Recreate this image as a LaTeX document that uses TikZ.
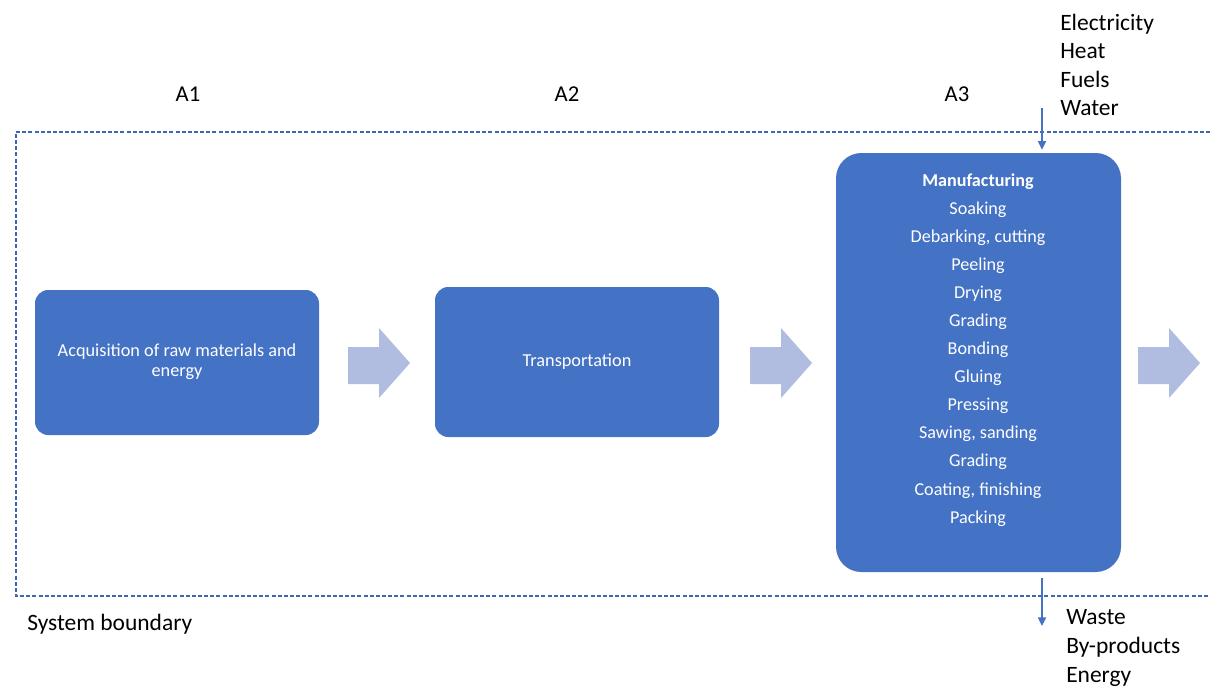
\documentclass[tikz,border=0pt]{standalone}
\usepackage{fontspec}
\setmainfont{Carlito}
\usetikzlibrary{arrows.meta}
\definecolor{boxblue}{HTML}{4472C4}
\definecolor{lightarrow}{HTML}{B0BCE0}
\definecolor{bound}{HTML}{3D67B1}
\begin{document}
\begin{tikzpicture}[x=0.75pt,y=-0.75pt,
  procbox/.style={fill=boxblue, text=white, font=\fontsize{13.7pt}{15pt}\selectfont, align=center, inner sep=0pt},
  mtext/.style={text=white, font=\fontsize{13.6pt}{15pt}\selectfont, inner sep=0pt, anchor=mid},
  outlabel/.style={font=\fontsize{17.6pt}{21pt}\selectfont, inner sep=0pt, anchor=mid west},
  stagelabel/.style={font=\fontsize{17pt}{20pt}\selectfont, inner sep=0pt, anchor=mid},
  blockarrow/.style={fill=lightarrow},
  boundary/.style={draw=bound, line width=1.1pt, dash pattern=on 3pt off 1.6pt},
  conn/.style={draw=boxblue, line width=1.3pt, -{Triangle[length=6.5pt,width=6pt]}}]
\useasboundingbox (0,0) rectangle (1210,687);
% system boundary
\draw[boundary] (1210,132) -- (16,132) -- (16,596) -- (1210,596);
% stage labels
\node[stagelabel] (a1) at (188,98) {A1};
\node[stagelabel] (a2) at (567,98) {A2};
\node[stagelabel] (a3) at (957,98) {A3};
% process boxes
\node[procbox, rounded corners=10pt, minimum width=213pt, minimum height=108.75pt] (acq) at (177,362.5) {\raisebox{-10.5pt}[0pt][0pt]{\parbox[b]{200pt}{\centering\baselineskip=15pt Acquisition of raw materials and\\energy}}};
\node[procbox, rounded corners=10pt, minimum width=213pt, minimum height=112.5pt] (trans) at (577,362) {\raisebox{-3.4pt}[0pt][0pt]{Transportation}};
\node[procbox, rounded corners=19pt, minimum width=213.75pt, minimum height=314.25pt] (mfg) at (978.5,362.5) {};
\foreach \t [count=\i] in {\textbf{Manufacturing}, Soaking, {Debarking, cutting}, Peeling, Drying, Grading, Bonding, Gluing, Pressing, {Sawing, sanding}, Grading, {Coating, finishing}, Packing}
  \node[mtext] (m\i) at (978,{183+(\i-1)*28.08}) {\t};
% block arrows
\foreach \dx in {0,402,790}
  \fill[blockarrow] (348+\dx,347) -- (379+\dx,347) -- (379+\dx,328) -- (410+\dx,363) -- (379+\dx,398) -- (379+\dx,384) -- (348+\dx,384) -- cycle;
% inputs
\node[outlabel] (elec) at (1060,27) {Electricity};
\node[outlabel] (heat) at (1060,55) {Heat};
\node[outlabel] (fuel) at (1060,84) {Fuels};
\node[outlabel] (water) at (1060,112) {Water};
% outputs
\node[outlabel] (waste) at (1066,621) {Waste};
\node[outlabel] (byp) at (1066,650) {By-products};
\node[outlabel] (energy) at (1066,679) {Energy};
\node[outlabel] (sysb) at (27,627) {System boundary};
% connectors
\coordinate (inS) at (1042,108);
\coordinate (outE) at (1042,626);
\draw[conn, shorten >=2.25pt] (inS) -- (inS |- mfg.north);
\draw[conn, shorten <=4.5pt] (outE |- mfg.south) -- (outE);
\end{tikzpicture}
\end{document}
